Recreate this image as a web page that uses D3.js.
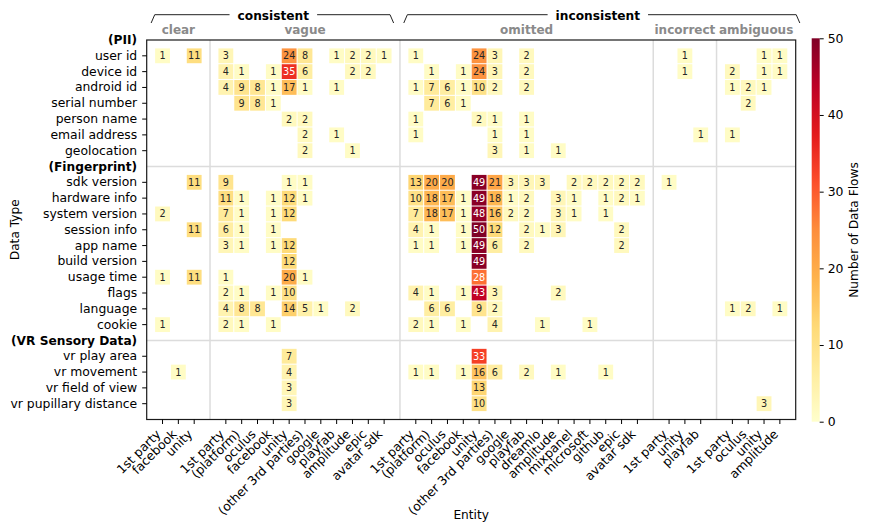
<!DOCTYPE html>
<html><head><meta charset="utf-8">
<script src="https://cdn.jsdelivr.net/npm/d3@7"></script>
<style>
body{margin:0;background:#fff}
svg text{font-family:"DejaVu Sans",sans-serif}
</style>
</head><body>
<svg id="chart" width="871" height="531"></svg>
<script>
// ---------------- DATA ----------------
const rowGroupLabels = ["(PII)", "(Fingerprint)", "(VR Sensory Data)"];
const piiRows = ["user id","device id","android id","serial number","person name","email address","geolocation"];
const fingerprintRows = ["sdk version","hardware info","system version","session info","app name","build version","usage time","flags","language","cookie"];
const vrRows = ["vr play area","vr movement","vr field of view","vr pupillary distance"];

const topCategories = ["consistent","inconsistent"];
const subCategories = ["clear","vague","omitted","incorrect","ambiguous"];
const subCategoryParent = ["consistent","consistent","inconsistent","inconsistent","inconsistent"];

const clearEntities = ["1st party","facebook","unity"];
const vagueEntities = ["1st party","(platform)","oculus","facebook","unity","(other 3rd parties)","google","playfab","amplitude","epic","avatar sdk"];
const omittedEntities = ["1st party","(platform)","oculus","facebook","unity","(other 3rd parties)","google","playfab","dreamlo","amplitude","mixpanel","microsoft","github","epic","avatar sdk"];
const incorrectEntities = ["1st party","unity","playfab"];
const ambiguousEntities = ["1st party","oculus","unity","amplitude"];

// rows: user id .. geolocation, sdk version .. cookie, vr play area .. vr pupillary distance
const clearValues = [
  [1,0,11],[0,0,0],[0,0,0],[0,0,0],[0,0,0],[0,0,0],[0,0,0],
  [0,0,11],[0,0,0],[2,0,0],[0,0,11],[0,0,0],[0,0,0],[1,0,11],[0,0,0],[0,0,0],[1,0,0],
  [0,0,0],[0,1,0],[0,0,0],[0,0,0]
];
const vagueValues = [
  [3,0,0,0,24,8,0,1,2,2,1],
  [4,1,0,1,35,6,0,0,2,2,0],
  [4,9,8,1,17,1,0,1,0,0,0],
  [0,9,8,1,0,0,0,0,0,0,0],
  [0,0,0,0,2,2,0,0,0,0,0],
  [0,0,0,0,0,2,0,1,0,0,0],
  [0,0,0,0,0,2,0,0,1,0,0],
  [9,0,0,0,1,1,0,0,0,0,0],
  [11,1,0,1,12,1,0,0,0,0,0],
  [7,1,0,1,12,0,0,0,0,0,0],
  [6,1,0,1,0,0,0,0,0,0,0],
  [3,1,0,1,12,0,0,0,0,0,0],
  [0,0,0,0,12,0,0,0,0,0,0],
  [1,0,0,0,20,1,0,0,0,0,0],
  [2,1,0,1,10,0,0,0,0,0,0],
  [4,8,8,0,14,5,1,0,2,0,0],
  [2,1,0,1,0,0,0,0,0,0,0],
  [0,0,0,0,7,0,0,0,0,0,0],
  [0,0,0,0,4,0,0,0,0,0,0],
  [0,0,0,0,3,0,0,0,0,0,0],
  [0,0,0,0,3,0,0,0,0,0,0]
];
const omittedValues = [
  [1,0,0,0,24,3,0,2,0,0,0,0,0,0,0],
  [0,1,0,1,24,3,0,2,0,0,0,0,0,0,0],
  [1,7,6,1,10,2,0,2,0,0,0,0,0,0,0],
  [0,7,6,1,0,0,0,0,0,0,0,0,0,0,0],
  [1,0,0,0,2,1,0,1,0,0,0,0,0,0,0],
  [1,0,0,0,0,1,0,1,0,0,0,0,0,0,0],
  [0,0,0,0,0,3,0,1,0,1,0,0,0,0,0],
  [13,20,20,0,49,21,3,3,3,0,2,2,2,2,2],
  [10,18,17,1,49,18,1,2,0,3,1,0,1,2,1],
  [7,18,17,1,48,16,2,2,0,3,1,0,1,0,0],
  [4,1,0,1,50,12,0,2,1,3,0,0,0,2,0],
  [1,1,0,1,49,6,0,2,0,0,0,0,0,2,0],
  [0,0,0,0,49,0,0,0,0,0,0,0,0,0,0],
  [0,0,0,0,28,0,0,0,0,0,0,0,0,0,0],
  [4,1,0,1,43,3,0,0,0,2,0,0,0,0,0],
  [0,6,6,0,9,2,0,0,0,0,0,0,0,0,0],
  [2,1,0,1,0,4,0,0,1,0,0,1,0,0,0],
  [0,0,0,0,33,0,0,0,0,0,0,0,0,0,0],
  [1,1,0,1,16,6,0,2,0,1,0,0,1,0,0],
  [0,0,0,0,13,0,0,0,0,0,0,0,0,0,0],
  [0,0,0,0,10,0,0,0,0,0,0,0,0,0,0]
];
const incorrectValues = [
  [0,1,0],[0,1,0],[0,0,0],[0,0,0],[0,0,0],[0,0,1],[0,0,0],
  [1,0,0],[0,0,0],[0,0,0],[0,0,0],[0,0,0],[0,0,0],[0,0,0],[0,0,0],[0,0,0],[0,0,0],
  [0,0,0],[0,0,0],[0,0,0],[0,0,0]
];
const ambiguousValues = [
  [0,0,1,1],[2,0,1,1],[1,2,1,0],[0,2,0,0],[0,0,0,0],[1,0,0,0],[0,0,0,0],
  [0,0,0,0],[0,0,0,0],[0,0,0,0],[0,0,0,0],[0,0,0,0],[0,0,0,0],[0,0,0,0],[0,0,0,0],[1,2,0,1],[0,0,0,0],
  [0,0,0,0],[0,0,0,0],[0,0,0,0],[0,0,3,0]
];
const colorbarTicks = [0,10,20,30,40,50];
const colorMax = 50;

// ---------------- LAYOUT ----------------
const L = 146.7, R = 795.7, T = 40, B = 419.5;
const tickFont = 12.4;
const svg = d3.select("#chart");

const entityLists = [clearEntities, vagueEntities, omittedEntities, incorrectEntities, ambiguousEntities];
const valueLists = [clearValues, vagueValues, omittedValues, incorrectValues, ambiguousValues];
const rowLists = [piiRows, fingerprintRows, vrRows];
const allRows = [].concat(...rowLists);

// x slots (with spacer columns between sub categories)
const xSlots = [], xSpacers = [], columns = [];
subCategories.forEach((s, i) => {
  if (i > 0) { const k = "sp" + i; xSlots.push(k); xSpacers.push(k); }
  entityLists[i].forEach((e, j) => {
    const k = s + "|" + j; xSlots.push(k); columns.push({key: k, name: e, sub: i, j});
  });
});
const ySlots = [], ySpacers = [];
rowLists.forEach((rows, i) => {
  if (i > 0) { const k = "gsp" + i; ySlots.push(k); ySpacers.push(k); }
  rows.forEach(r => ySlots.push(r));
});

const x = d3.scaleBand().domain(xSlots).range([L, R]).paddingInner(0).paddingOuter(0.5);
const y = d3.scaleBand().domain(ySlots).range([T, B]).paddingInner(0).paddingOuter(0.5);
const bw = x.bandwidth(), bh = y.bandwidth();

const brew = d3.schemeYlOrRd[9];
const color = d3.scaleLinear().domain(brew.map((_, i) => i / 8 * colorMax)).range(brew).interpolate(d3.interpolateRgb).clamp(true);
function lum(c) {
  const rgb = d3.rgb(c);
  const f = v => { v /= 255; return v <= 0.03928 ? v / 12.92 : Math.pow((v + 0.055) / 1.055, 2.4); };
  return 0.2126 * f(rgb.r) + 0.7152 * f(rgb.g) + 0.0722 * f(rgb.b);
}

// divider lines
const gDiv = svg.append("g");
xSpacers.forEach(k => {
  const cx = x(k) + bw / 2;
  gDiv.append("line").attr("x1", cx).attr("x2", cx).attr("y1", T).attr("y2", B)
    .attr("stroke", "#dcdcdc").attr("stroke-width", 1.5);
});
ySpacers.forEach(k => {
  const cy = y(k) + bh / 2;
  gDiv.append("line").attr("x1", L).attr("x2", R).attr("y1", cy).attr("y2", cy)
    .attr("stroke", "#dcdcdc").attr("stroke-width", 1.5);
});

// cells
const cells = [];
columns.forEach(c => {
  allRows.forEach((r, ri) => {
    const v = valueLists[c.sub][ri][c.j];
    if (v > 0) cells.push({col: c.key, row: r, v});
  });
});
const gCells = svg.append("g");
const cg = gCells.selectAll("g").data(cells).join("g")
  .attr("transform", d => `translate(${x(d.col)},${y(d.row)})`);
cg.append("rect").attr("x", 0.5).attr("y", 0.5).attr("width", bw - 1).attr("height", bh - 1)
  .attr("fill", d => color(d.v));
cg.append("text").attr("x", bw / 2).attr("y", bh / 2).attr("dy", "0.36em")
  .attr("text-anchor", "middle").attr("font-size", 9.7)
  .attr("fill", d => lum(color(d.v)) > 0.408 ? "#262626" : "#ffffff")
  .text(d => d.v);

// frame
svg.append("rect").attr("x", L).attr("y", T).attr("width", R - L).attr("height", B - T)
  .attr("fill", "none").attr("stroke", "#1a1a1a").attr("stroke-width", 1.2);

// x axis
const xAxis = d3.axisBottom(x).tickValues(columns.map(c => c.key))
  .tickFormat(k => columns.find(c => c.key === k).name).tickSize(4.5).tickSizeOuter(0);
const gx = svg.append("g").attr("transform", `translate(0,${B})`).call(xAxis);
gx.select(".domain").remove();
gx.selectAll("line").attr("stroke", "#000");
gx.selectAll("text").attr("y", null).attr("dy", null)
  .attr("text-anchor", "end").attr("font-size", tickFont).attr("fill", "#000")
  .attr("font-family", "DejaVu Sans")
  .attr("transform", "translate(-1,15.5) rotate(-45)");

// y axis
const yAxis = d3.axisLeft(y).tickValues(allRows).tickSize(4.5).tickSizeOuter(0).tickPadding(5);
const gy = svg.append("g").attr("transform", `translate(${L},0)`).call(yAxis);
gy.select(".domain").remove();
gy.selectAll("line").attr("stroke", "#000");
gy.selectAll("text").attr("font-size", tickFont).attr("fill", "#000").attr("font-family", "DejaVu Sans");

// row group labels (bold), one step above each group's first row
rowLists.forEach((rows, i) => {
  const cy = y(rows[0]) + bh / 2 - y.step();
  svg.append("text").attr("x", L - 9.5).attr("y", cy).attr("dy", "0.36em")
    .attr("text-anchor", "end").attr("font-size", 12.2).attr("font-weight", "bold")
    .text(rowGroupLabels[i]);
});

// sub category labels
subCategories.forEach((s, i) => {
  const cols = columns.filter(c => c.sub === i);
  const cx = (x(cols[0].key) + x(cols[cols.length - 1].key) + bw) / 2;
  svg.append("text").attr("x", cx).attr("y", 34).attr("text-anchor", "middle")
    .attr("font-size", 12).attr("font-weight", "bold").attr("fill", "#8a8a8a").text(s);
});

// top categories with brackets
const bracketExtra = {consistent: [0.72, 0.6], inconsistent: [0.76, 1.26]};
topCategories.forEach(tc => {
  const subs = subCategories.map((s, i) => i).filter(i => subCategoryParent[i] === tc);
  const cols = columns.filter(c => subs.includes(c.sub));
  const c0 = x(cols[0].key) + bw / 2, c1 = x(cols[cols.length - 1].key) + bw / 2;
  const mid = (c0 + c1) / 2;
  const x0 = c0 - bracketExtra[tc][0] * bw, x1 = c1 + bracketExtra[tc][1] * bw;
  const t = svg.append("text").attr("x", mid).attr("y", 19.5).attr("text-anchor", "middle")
    .attr("font-size", 12.2).attr("font-weight", "bold").text(tc);
  const tw = t.node().getComputedTextLength();
  const yl = 14.7, yb = 23, dx = 3.6, gap = 8;
  svg.append("path").attr("fill", "none").attr("stroke", "#222").attr("stroke-width", 1)
    .attr("d", `M${x0},${yb}L${x0 + dx},${yl}L${mid - tw / 2 - gap},${yl}`);
  svg.append("path").attr("fill", "none").attr("stroke", "#222").attr("stroke-width", 1)
    .attr("d", `M${mid + tw / 2 + gap},${yl}L${x1 - dx},${yl}L${x1},${yb}`);
});

// axis titles
svg.append("text").attr("x", (L + R) / 2).attr("y", 519).attr("text-anchor", "middle")
  .attr("font-size", 12.2).text("Entity");
svg.append("text").attr("transform", `translate(19,${(T + B) / 2}) rotate(-90)`)
  .attr("text-anchor", "middle").attr("font-size", 12.2).text("Data Type");

// colorbar
const cbX = 811.7, cbW = 8, cbT = 38.3, cbB = 421.7;
const cy = d3.scaleLinear().domain([0, colorMax]).range([cbB, cbT]);
const grad = svg.append("defs").append("linearGradient").attr("id", "cbg")
  .attr("x1", 0).attr("y1", 1).attr("x2", 0).attr("y2", 0);
d3.range(0, 51).forEach(i => {
  grad.append("stop").attr("offset", i / 50).attr("stop-color", color(i / 50 * colorMax));
});
svg.append("rect").attr("x", cbX).attr("y", cbT).attr("width", cbW).attr("height", cbB - cbT)
  .attr("fill", "url(#cbg)");
const gc = svg.append("g").attr("transform", `translate(${cbX + cbW},0)`)
  .call(d3.axisRight(cy).tickValues(colorbarTicks).tickSize(4).tickPadding(4).tickSizeOuter(0));
gc.select(".domain").remove();
gc.selectAll("line").attr("stroke", "#000");
gc.selectAll("text").attr("font-size", tickFont).attr("fill", "#000").attr("font-family", "DejaVu Sans");
svg.append("text").attr("transform", `translate(858,${(cbT + cbB) / 2}) rotate(-90)`)
  .attr("text-anchor", "middle").attr("font-size", 12.2).text("Number of Data Flows");
</script>
</body></html>
